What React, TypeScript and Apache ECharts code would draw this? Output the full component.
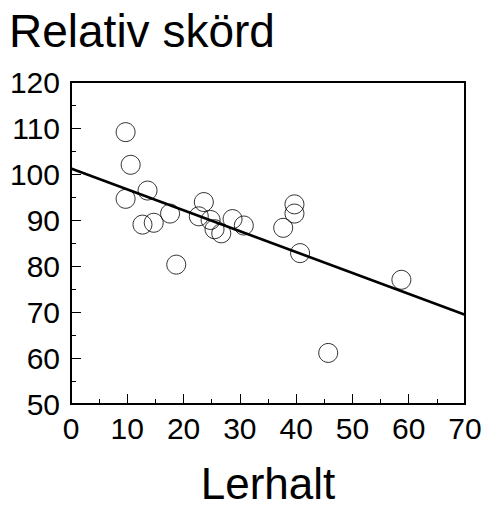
import React, { useEffect, useRef } from "react";
import * as echarts from "echarts";

const clayContent: number[] = [9.7, 10.6, 9.7, 13.6, 12.7, 14.7, 17.6, 18.7, 22.7, 23.6, 24.8, 25.5, 26.7, 28.7, 30.7, 37.7, 39.7, 39.7, 40.7, 45.7, 58.7];
const relativeYield: number[] = [109.1, 102.0, 94.6, 96.4, 89.0, 89.4, 91.4, 80.3, 90.8, 93.9, 90.0, 88.0, 87.1, 90.2, 88.8, 88.3, 93.4, 91.4, 82.8, 61.1, 77.0];
const fitX: number[] = [0, 70];
const fitY: number[] = [101.2, 69.4];
const xTicks = { min: 0, max: 70, interval: 10 };
const yTicks = { min: 50, max: 120, interval: 10 };

const FONT = "'Liberation Sans', Arial, sans-serif";

export default function App() {
  const ref = useRef<HTMLDivElement>(null);
  useEffect(() => {
    if (!ref.current) return;
    const chart = echarts.init(ref.current, undefined, { renderer: "svg" });
    chart.setOption({
      animation: false,
      backgroundColor: "#fff",
      title: {
        text: "Relativ skörd",
        left: 4,
        top: 3,
        textStyle: { fontFamily: FONT, fontSize: 46, fontWeight: "normal", color: "#000" },
      },
      grid: {
        left: 71,
        right: 19,
        top: 82,
        bottom: 102,
        show: true,
        borderColor: "#000",
        borderWidth: 2,
        containLabel: false,
        outerBoundsMode: "none",
      },
      xAxis: {
        type: "value",
        min: xTicks.min,
        max: xTicks.max,
        interval: xTicks.interval,
        name: "Lerhalt",
        nameLocation: "middle",
        nameGap: 62,
        nameTextStyle: { fontFamily: FONT, fontSize: 44, lineHeight: 34, color: "#000" },
        axisLine: { show: true, lineStyle: { color: "#000", width: 2 } },
        axisTick: { show: true, inside: true, length: 10, lineStyle: { color: "#000", width: 1 } },
        minorTick: { show: true, splitNumber: 2, length: 5, lineStyle: { color: "#000", width: 1 } },
        splitLine: { show: false },
        axisLabel: { fontFamily: FONT, fontSize: 30, color: "#000", margin: 9 },
      },
      yAxis: {
        type: "value",
        min: yTicks.min,
        max: yTicks.max,
        interval: yTicks.interval,
        axisLine: { show: true, lineStyle: { color: "#000", width: 2 } },
        axisTick: { show: true, inside: true, length: 10, lineStyle: { color: "#000", width: 1 } },
        minorTick: { show: true, splitNumber: 2, length: 5, lineStyle: { color: "#000", width: 1 } },
        splitLine: { show: false },
        axisLabel: { fontFamily: FONT, fontSize: 30, color: "#000", margin: 11 },
      },
      series: [
        {
          type: "scatter",
          data: clayContent.map((x, i) => [x, relativeYield[i]]),
          symbol: "circle",
          symbolSize: 19,
          itemStyle: { color: "transparent", borderColor: "#000", borderWidth: 1 },
          z: 3,
        },
        {
          type: "line",
          data: fitX.map((x, i) => [x, fitY[i]]),
          symbol: "none",
          lineStyle: { color: "#000", width: 2.5 },
          z: 2,
        },
      ],
    });
    return () => chart.dispose();
  }, []);
  return <div ref={ref} style={{ width: 484, height: 506, position: "absolute", left: 0, top: 0 }} />;
}
